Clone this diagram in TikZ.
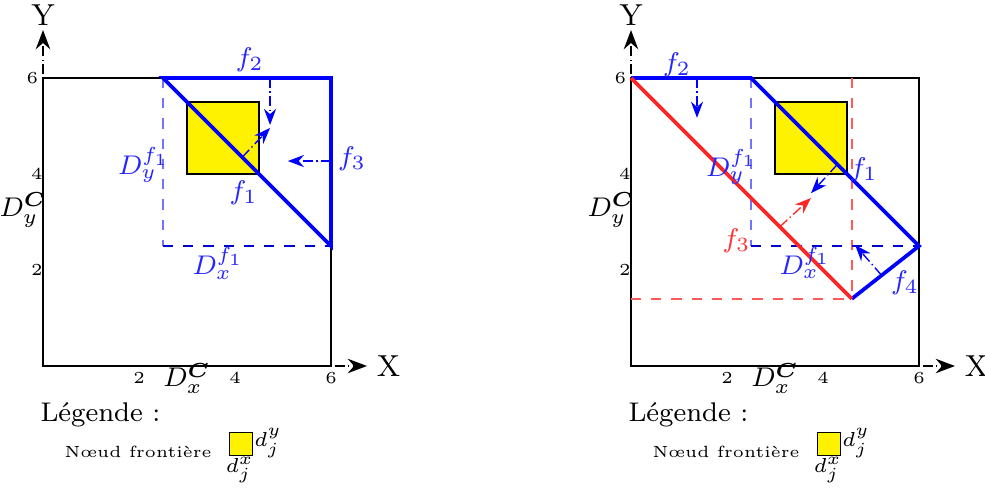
\documentclass[tikz,border=0pt]{standalone}
\usepackage{amsmath,amssymb}
\usepackage{xcolor}
\usepackage{tikz}
\usetikzlibrary{arrows.meta}

\begin{document}
\begin{tikzpicture}[
    x=0.5cm, y=0.5cm,
    >=Stealth,
    font=\footnotesize,
    axis/.style={->, densely dash dot, black, semithick},
    frame/.style={draw=black, semithick},
    front/.style={draw=blue, line width=1.1pt},
    frontr/.style={draw=red!85, line width=1.1pt},
    proj/.style={dashed, blue!55, semithick},
    projd/.style={dashed, blue!80!black, semithick},
    projr/.style={dashed, red!65, semithick},
    flux/.style={->, densely dash dot, blue},
    fluxr/.style={->, densely dash dot, red!85},
    lab/.style={text=blue!85},
    labr/.style={text=red!80},
    tick/.style={font=\tiny},
    axlab/.style={font=\small},
    cell/.style={draw=black, fill=yellow},
    legtitle/.style={anchor=west, font=\footnotesize},
    legtext/.style={font=\fontsize{4.8}{5.5}\selectfont},
    legdim/.style={font=\fontsize{6.5}{8}\selectfont}
]
\useasboundingbox (-0.896,-2.5625) rectangle (19.625,7.625);

% ---------------- Left: before ----------------
\coordinate (oA) at (0,0);
\coordinate (xA) at (6.75,0);
\coordinate (yA) at (0,7);
\coordinate (cA) at (6,6);
\coordinate (pA) at (2.5,6);
\coordinate (rA) at (6,2.5);
\coordinate (sA) at (2.5,2.5);

\draw[frame] (oA) rectangle (cA);
\draw[axis] (oA) -- (xA);
\draw[axis] (oA) -- (yA);
\node[axlab] (XA) at (7.2,0) {X};
\node[axlab] (YA) at (0,7.3) {Y};

\node[tick] (tx2A) at (2,-0.25) {2};
\node[tick] (tx4A) at (4,-0.25) {4};
\node[tick] (tx6A) at (6,-0.25) {6};
\node[tick] (ty2A) at (-0.13,2) {2};
\node[tick] (ty4A) at (-0.13,4) {4};
\node[tick] (ty6A) at (-0.22,6) {6};

\draw[proj] (pA) -- (sA);
\draw[projd] (sA) -- (rA);
\draw[cell] (3,4) rectangle (4.5,5.5);
\draw[front] (pA) -- (cA) -- (rA) -- cycle;

\coordinate (f2sA) at (4.73,6);
\coordinate (f2eA) at (4.73,5.02);
\coordinate (f1sA) at (4.15,4.35);
\coordinate (f1eA) at (4.73,4.96);
\coordinate (f3sA) at (6,4.27);
\coordinate (f3eA) at (5.1,4.27);
\draw[flux] (f2sA) -- (f2eA);
\draw[flux] (f1sA) -- (f1eA);
\draw[flux] (f3sA) -- (f3eA);

\node[lab] (f2A) at (4.31,6.37) {$f_2$};
\node[lab] (f1A) at (4.18,3.6) {$f_1$};
\node[lab] (f3A) at (6.44,4.32) {$f_3$};
\node[lab] (dyfA) at (2.1,4.19) {$D_y^{f_1}$};
\node[lab] (dxfA) at (3.65,2.14) {$D_x^{f_1}$};
\node (dyCA) at (-0.41,3.25) {$D_y^{\boldsymbol{C}}$};
\node (dxCA) at (3.0,-0.26) {$D_x^{\boldsymbol{C}}$};

% legend
\node[legtitle] (legA) at (-0.3,-1.02) {Légende :};
\node[legtext] (legtA) at (1.98,-1.78) {Nœud frontière};
\draw[cell] (3.88,-1.87) rectangle (4.37,-1.38);
\node[legdim] (djyA) at (4.69,-1.61) {$d_j^y$};
\node[legdim] (djxA) at (4.1,-2.17) {$d_j^x$};

% ---------------- Right: after ----------------
\begin{scope}[shift={(12.25,0)}]
\coordinate (oB) at (0,0);
\coordinate (xB) at (6.75,0);
\coordinate (yB) at (0,7);
\coordinate (cB) at (6,6);
\coordinate (aB) at (0,6);
\coordinate (pB) at (2.5,6);
\coordinate (rB) at (6,2.5);
\coordinate (sB) at (2.5,2.5);
\coordinate (kB) at (4.6,1.4);
\coordinate (ktB) at (4.6,6);
\coordinate (klB) at (0,1.4);

\draw[frame] (oB) rectangle (cB);
\draw[axis] (oB) -- (xB);
\draw[axis] (oB) -- (yB);
\node[axlab] (XB) at (7.2,0) {X};
\node[axlab] (YB) at (0,7.3) {Y};

\node[tick] (tx2B) at (2,-0.25) {2};
\node[tick] (tx4B) at (4,-0.25) {4};
\node[tick] (tx6B) at (6,-0.25) {6};
\node[tick] (ty2B) at (-0.13,2) {2};
\node[tick] (ty4B) at (-0.13,4) {4};
\node[tick] (ty6B) at (-0.22,6) {6};

\draw[projr] (ktB) -- (kB);
\draw[projr] (klB) -- (kB);
\draw[proj] (pB) -- (sB);
\draw[projd] (sB) -- (rB);
\draw[cell] (3,4) rectangle (4.5,5.5);
\draw[front] (aB) -- (pB) -- (rB) -- (kB);
\draw[frontr] (aB) -- (kB);

\coordinate (f2sB) at (1.375,6);
\coordinate (f2eB) at (1.375,5.17);
\coordinate (f1sB) at (4.3,4.2);
\coordinate (f1eB) at (3.75,3.6);
\coordinate (f3sB) at (3.1,2.9);
\coordinate (f3eB) at (3.75,3.5);
\coordinate (f4sB) at (5.22,1.89);
\coordinate (f4eB) at (4.67,2.52);
\draw[flux] (f2sB) -- (f2eB);
\draw[flux] (f1sB) -- (f1eB);
\draw[fluxr] (f3sB) -- (f3eB);
\draw[flux] (f4sB) -- (f4eB);

\node[lab] (f2B) at (0.96,6.27) {$f_2$};
\node[lab] (f1B) at (4.85,4.08) {$f_1$};
\node[labr] (f3B) at (2.2,2.6) {$f_3$};
\node[lab] (f4B) at (5.71,1.73) {$f_4$};
\node[lab] (dyfB) at (2.1,4.15) {$D_y^{f_1}$};
\node[lab] (dxfB) at (3.63,2.15) {$D_x^{f_1}$};
\node (dyCB) at (-0.41,3.25) {$D_y^{\boldsymbol{C}}$};
\node (dxCB) at (3.0,-0.26) {$D_x^{\boldsymbol{C}}$};

% legend
\node[legtitle] (legB) at (-0.3,-1.02) {Légende :};
\node[legtext] (legtB) at (1.98,-1.78) {Nœud frontière};
\draw[cell] (3.88,-1.87) rectangle (4.37,-1.38);
\node[legdim] (djyB) at (4.69,-1.61) {$d_j^y$};
\node[legdim] (djxB) at (4.1,-2.17) {$d_j^x$};
\end{scope}

\end{tikzpicture}
\end{document}
